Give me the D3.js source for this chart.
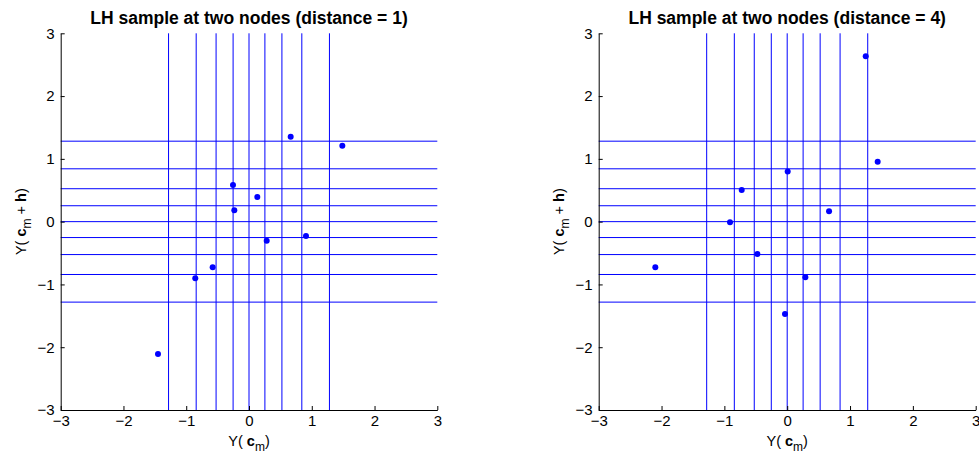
<!DOCTYPE html>
<html>
<head>
<meta charset="utf-8">
<script src="https://cdn.jsdelivr.net/npm/d3@7"></script>
<style>
  body { margin: 0; background: #fff; }
  text { font-family: "Liberation Sans", Arial, sans-serif; }
</style>
</head>
<body>
<div id="chart"></div>
<script>
// stratum boundaries (standard normal deciles)
const bounds = [-1.2816, -0.8416, -0.5244, -0.2533, 0, 0.2533, 0.5244, 0.8416, 1.2816];
const ticks = [-3, -2, -1, 0, 1, 2, 3];

const titles = ['LH sample at two nodes (distance = 1)', 'LH sample at two nodes (distance = 4)'];

const leftX = [0.664, 1.487, -0.255, 0.132, -0.234, 0.282, 0.908, -0.579, -0.856, -1.45];
const leftY = [1.353, 1.21, 0.583, 0.392, 0.18, -0.304, -0.229, -0.728, -0.903, -2.109];

const rightX = [1.25, 1.44, 0.008, -0.724, -0.91, 0.666, -0.475, -2.099, 0.289, -0.035];
const rightY = [2.634, 0.955, 0.80, 0.504, -0.011, 0.164, -0.516, -0.728, -0.887, -1.472];

const width = 979, height = 456;
const svg = d3.select('#chart').append('svg').attr('width', width).attr('height', height);

function minus(v) { return String(v).replace('-', '\u2212'); }

function panel(x0, x1, title, xs, ys) {
    let top = 33.3, bottom = 410;
    let x = d3.scaleLinear().domain([-3, 3]).range([x0, x1]);
    let y = d3.scaleLinear().domain([-3, 3]).range([bottom, top]);
    let g = svg.append('g');

    g.selectAll('line.v').data(bounds).enter().append('line').
        attr('x1', d => x(d)).attr('x2', d => x(d)).
        attr('y1', top).attr('y2', bottom).
        attr('stroke', '#0000ff').attr('stroke-width', 1);
    g.selectAll('line.h').data(bounds).enter().append('line').
        attr('x1', x0).attr('x2', x1).
        attr('y1', d => y(d)).attr('y2', d => y(d)).
        attr('stroke', '#0000ff').attr('stroke-width', 1);

    let xa = g.append('g').attr('transform', 'translate(0,' + bottom + ')').
        call(d3.axisBottom(x).tickValues(ticks).tickSizeInner(-4).tickSizeOuter(0).tickPadding(5).tickFormat(minus));
    let ya = g.append('g').attr('transform', 'translate(' + x0 + ',0)').
        call(d3.axisLeft(y).tickValues(ticks).tickSizeInner(-4).tickSizeOuter(0).tickPadding(6).tickFormat(minus));
    [xa, ya].forEach(a => {
        a.selectAll('text').attr('font-size', 15).attr('fill', '#000').style('font-family', '"Liberation Sans", Arial, sans-serif');
        a.select('.domain').attr('stroke', '#000');
        a.selectAll('.tick line').attr('stroke', '#000');
    });

    g.selectAll('circle').data(xs).enter().append('circle').
        attr('cx', d => x(d)).attr('cy', (d, i) => y(ys[i])).
        attr('r', 3).attr('fill', '#0000ff');

    g.append('text').attr('x', (x0 + x1) / 2).attr('y', 23.5).
        attr('text-anchor', 'middle').attr('font-size', 17.5).attr('font-weight', 'bold').
        text(title);

    let xl = g.append('text').attr('x', (x0 + x1) / 2).attr('y', 446).
        attr('text-anchor', 'middle').attr('font-size', 14.5);
    xl.append('tspan').text('Y( ');
    xl.append('tspan').attr('font-weight', 'bold').text('c');
    xl.append('tspan').attr('font-size', 12).attr('dy', 5).text('m');
    xl.append('tspan').attr('dy', -5).text(')');

    let yl = g.append('text').
        attr('transform', 'translate(' + (x0 - 35) + ',' + ((top + bottom) / 2) + ') rotate(-90)').
        attr('text-anchor', 'middle').attr('font-size', 14.5);
    yl.append('tspan').text('Y( ');
    yl.append('tspan').attr('font-weight', 'bold').text('c');
    yl.append('tspan').attr('font-size', 12).attr('dy', 5).text('m');
    yl.append('tspan').attr('dy', -5).text(' + ');
    yl.append('tspan').attr('font-weight', 'bold').text('h');
    yl.append('tspan').text(')');
}

panel(60.7, 437.3, titles[0], leftX, leftY);
panel(598.7, 975.7, titles[1], rightX, rightY);
</script>
</body>
</html>
